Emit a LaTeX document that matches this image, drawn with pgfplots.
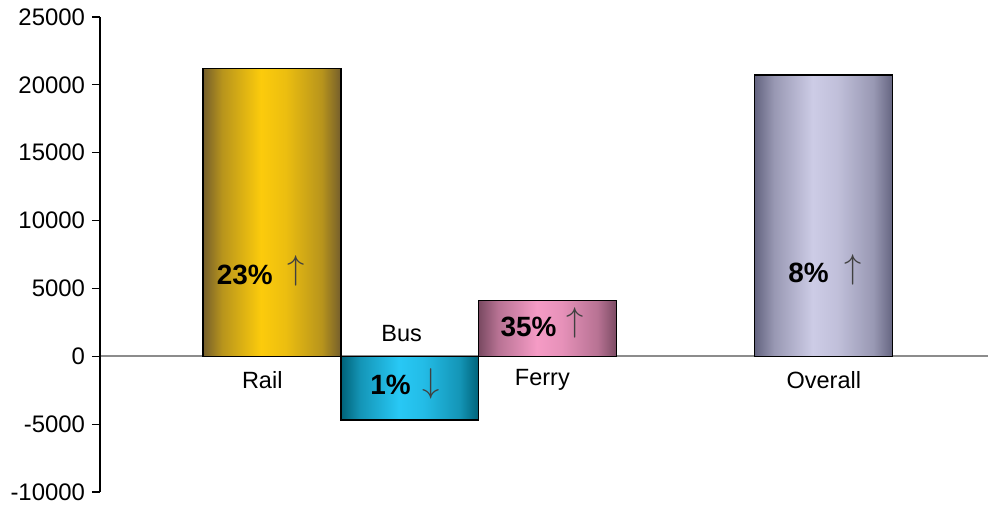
\documentclass[border=0pt]{standalone}
\usepackage{fontspec}
\setmainfont{Liberation Sans}
\usepackage{pgfplots}
\pgfplotsset{compat=1.18}

\definecolor{railD}{RGB}{116,94,44}
\definecolor{railL}{RGB}{252,203,12}
\definecolor{busD}{RGB}{0,98,120}
\definecolor{busL}{RGB}{40,200,245}
\definecolor{ferD}{RGB}{122,74,98}
\definecolor{ferL}{RGB}{245,155,197}
\definecolor{ovD}{RGB}{100,100,128}
\definecolor{ovL}{RGB}{205,204,230}
\colorlet{railM}{railD!50!railL}\colorlet{railN}{railL!88!railD}
\colorlet{busM}{busD!50!busL}\colorlet{busN}{busL!88!busD}
\colorlet{ferM}{ferD!50!ferL}\colorlet{ferN}{ferL!88!ferD}
\colorlet{ovM}{ovD!50!ovL}\colorlet{ovN}{ovL!88!ovD}

\pgfdeclarehorizontalshading{railsh}{100bp}{color(0bp)=(railD); color(25bp)=(railD); color(32bp)=(railM); color(46bp)=(railL); color(55bp)=(railN); color(68bp)=(railM); color(75bp)=(railD); color(100bp)=(railD)}
\pgfdeclarehorizontalshading{bussh}{100bp}{color(0bp)=(busD); color(25bp)=(busD); color(32bp)=(busM); color(46bp)=(busL); color(55bp)=(busN); color(68bp)=(busM); color(75bp)=(busD); color(100bp)=(busD)}
\pgfdeclarehorizontalshading{fersh}{100bp}{color(0bp)=(ferD); color(25bp)=(ferD); color(32bp)=(ferM); color(46bp)=(ferL); color(55bp)=(ferN); color(68bp)=(ferM); color(75bp)=(ferD); color(100bp)=(ferD)}
\pgfdeclarehorizontalshading{ovsh}{100bp}{color(0bp)=(ovD); color(25bp)=(ovD); color(32bp)=(ovM); color(46bp)=(ovL); color(55bp)=(ovN); color(68bp)=(ovM); color(75bp)=(ovD); color(100bp)=(ovD)}

\newcommand{\pct}[1]{\fontsize{14}{16}\selectfont\bfseries #1}
\newcommand{\upa}{\fontsize{17}{19}\selectfont$\uparrow$}
\newcommand{\dna}{\fontsize{17}{19}\selectfont$\downarrow$}

\begin{document}
\begin{tikzpicture}
\begin{axis}[
  scale only axis, width=444bp, height=237.5bp,
  xmin=-1.246, xmax=5.19, ymin=-10000, ymax=25000,
  axis y line=left, axis x line=middle,
  y axis line style={-, black, line width=0.6pt},
  x axis line style={-, black!45, line width=0.8pt},
  xtick=\empty, ytick={-10000,-5000,0,5000,10000,15000,20000,25000},
  tick align=outside, major tick length=4bp,
  ytick style={black, line width=0.6pt},
  yticklabel style={font=\fontsize{12}{14}\selectfont},
  /pgf/number format/assume math mode=true,
  /pgf/number format/set thousands separator={},
  scaled y ticks=false,
  clip=false,
]
\addplot[ybar, bar width=1, bar shift=0pt, draw=black, line width=0.6pt, shading=railsh] coordinates {(0,21200)};
\addplot[ybar, bar width=1, bar shift=0pt, draw=black, line width=0.6pt, shading=bussh] coordinates {(1,-4700)};
\addplot[ybar, bar width=1, bar shift=0pt, draw=black, line width=0.6pt, shading=fersh] coordinates {(2,4120)};
\addplot[ybar, bar width=1, bar shift=0pt, draw=black, line width=0.6pt, shading=ovsh] coordinates {(4,20720)};

\node at (axis cs:-0.196,5970) {\pct{23\%}};
\node[black!75] at (axis cs:0.174,6300) {\upa};
\node at (axis cs:0.86,-2140) {\pct{1\%}};
\node[black!75] at (axis cs:1.154,-2000) {\dna};
\node at (axis cs:1.86,2140) {\pct{35\%}};
\node[black!75] at (axis cs:2.2,2450) {\upa};
\node at (axis cs:3.89,6120) {\pct{8\%}};
\node[black!75] at (axis cs:4.21,6400) {\upa};

\node[font=\fontsize{11.8}{13}\selectfont] at (axis cs:-0.07,-1770) {Rail};
\node[font=\fontsize{11.8}{13}\selectfont] at (axis cs:0.94,1700) {Bus};
\node[font=\fontsize{11.8}{13}\selectfont] at (axis cs:1.96,-1770) {Ferry};
\node[font=\fontsize{11.8}{13}\selectfont] at (axis cs:4,-1770) {Overall};
\end{axis}
\pgfresetboundingbox
\path[use as bounding box] (current axis.south west) ++(-50bp,-7.5bp) rectangle ([shift={(0,8.5bp)}]current axis.north east);
\end{tikzpicture}
\end{document}
